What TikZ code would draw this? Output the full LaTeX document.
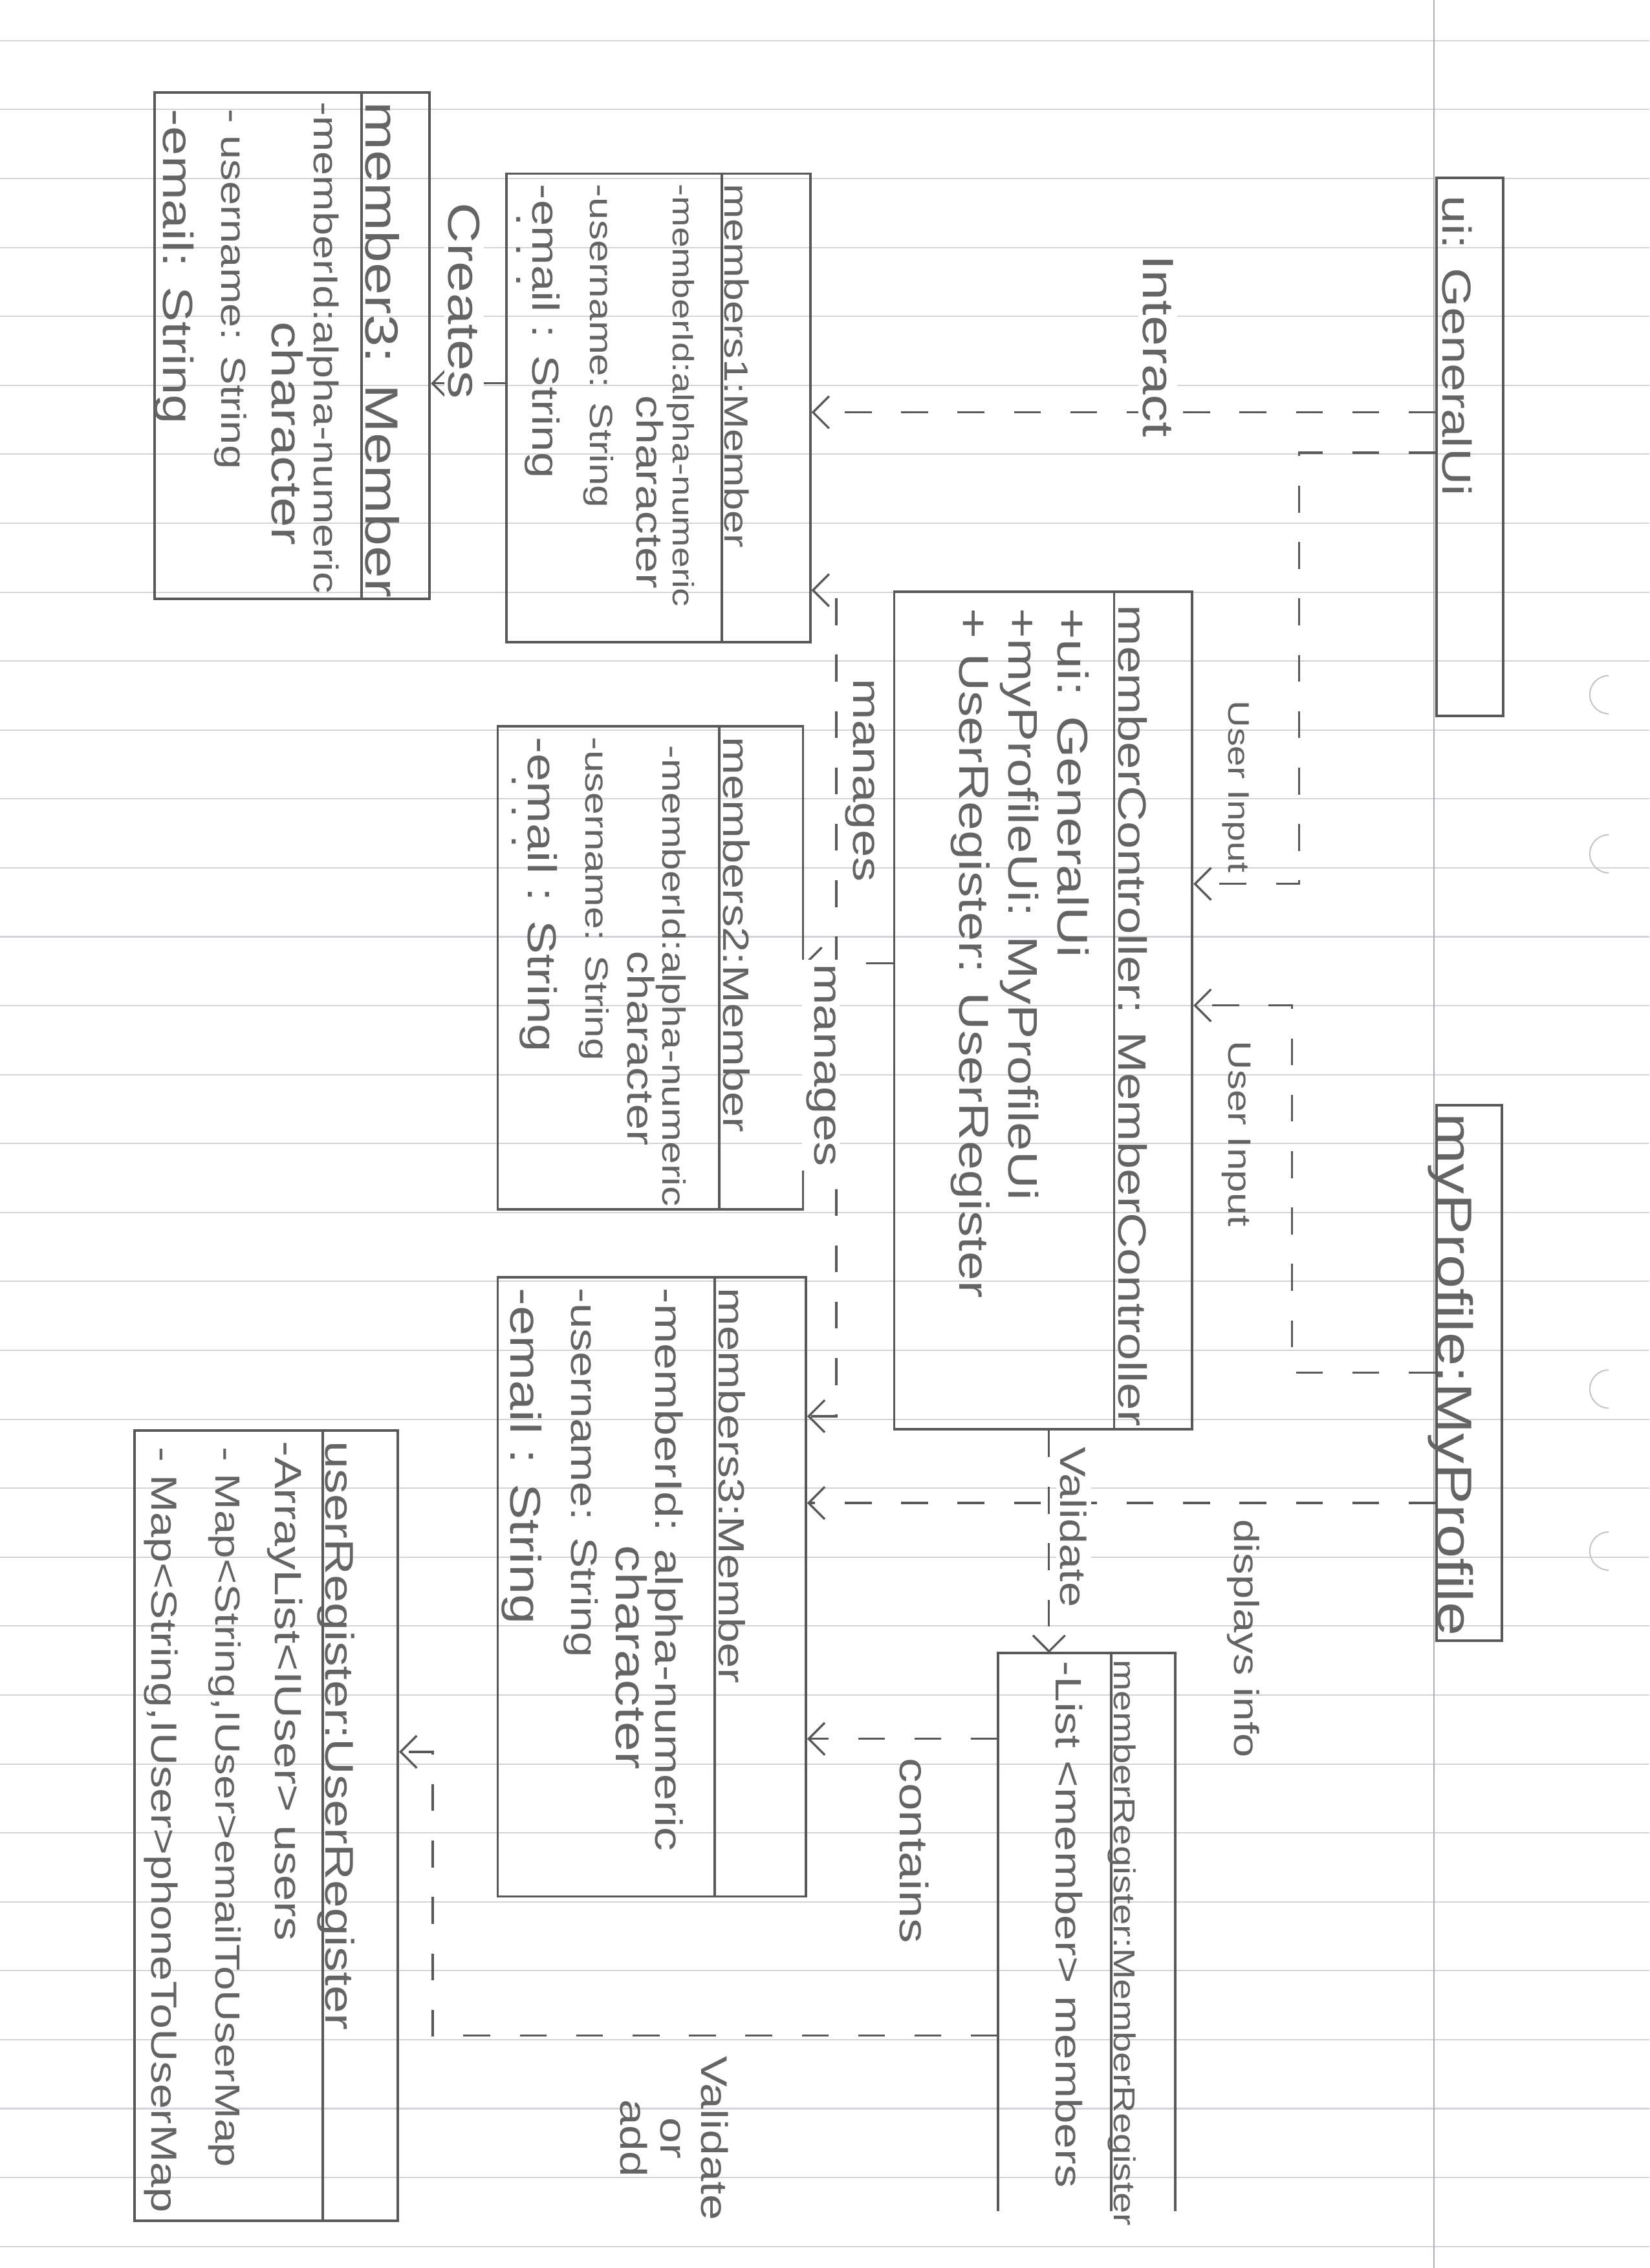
\documentclass[tikz,border=0pt]{standalone}
\usepackage{fontspec}
\setmainfont{Liberation Sans}[FakeStretch=1.25]
\usetikzlibrary{arrows.meta,fit}

\definecolor{pencil}{RGB}{88,88,88}
\definecolor{lead}{RGB}{100,100,100}
\definecolor{ruling}{RGB}{208,212,220}
\definecolor{margin}{RGB}{172,174,180}

\newcommand{\fsz}[1]{\fontsize{#1}{#1}\selectfont}

\tikzset{
  objbox/.style={draw=pencil, line width=0.9pt, inner sep=0pt},
  sepline/.style={draw=pencil, line width=0.9pt},
  hand/.style={rotate=-90, anchor=base west, inner sep=0pt, text=lead},
  linklabel/.style={hand, inner sep=1.5pt, fill=white},
  dep/.style={draw=pencil, line width=0.8pt, dash pattern=on 10pt off 11pt,
    -{Straight Barb[length=6pt,width=12pt]}},
}

\begin{document}
\begin{tikzpicture}[x=0.0189386cm, y=-0.0189386cm]
\useasboundingbox (0,0) rectangle (1140,1567.8);

% ruled paper
\foreach \k in {-2,...,30}
  \draw[ruling, line width=0.5pt] (0,{123.4+47.65*\k}) -- (1140,{123.4+47.65*\k});
\draw[margin, line width=0.6pt] (991,0) -- (991,1567.8);
\foreach \h in {480,590,960,1072}
  \draw[margin!70, line width=0.5pt] (1112,\h-13) arc[start angle=90, end angle=270, radius=0.25cm];

% objects
\node[objbox, fit={(993,123) (1039,495)}] (gui) {};
\node[objbox, fit={(993,764) (1038,1134)}] (prof) {};
\node[objbox, fit={(618,409) (824,988)}] (ctrl) {};
\node[objbox, fit={(350,120) (560,444)}] (mem1) {};
\node[objbox, fit={(344,502) (555,836)}] (mem2) {};
\node[objbox, fit={(344,883) (557,1311)}] (mem3) {};
\node[objbox, fit={(107,64) (297,414)}] (newmem) {};
\node[objbox, fit={(93,989) (275,1535)}] (ureg) {};
\node[inner sep=0pt, fit={(690,1143) (812,1528)}] (mreg) {};
\draw[sepline] (mreg.south west) -- (mreg.north west) -- (mreg.north east) -- (mreg.south east);

\draw[sepline] (770,0 |- ctrl.north) -- (770,0 |- ctrl.south);
\draw[sepline] (499,0 |- mem1.north) -- (499,0 |- mem1.south);
\draw[sepline] (497,0 |- mem2.north) -- (497,0 |- mem2.south);
\draw[sepline] (494,0 |- mem3.north) -- (494,0 |- mem3.south);
\draw[sepline] (250,0 |- newmem.north) -- (250,0 |- newmem.south);
\draw[sepline] (768,0 |- mreg.north) -- (768,0 |- mreg.south);
\draw[sepline] (223,0 |- ureg.north) -- (223,0 |- ureg.south);

\node[hand, font=\fsz{15.1}] (guiname) at (997,135) {ui: GeneralUi};
\node[hand, font=\fsz{18.1}] (profname) at (994,769) {myProfile:MyProfile};

\node[hand, font=\fsz{14.7}] (ctrlname) at (773,418) {memberController: MemberController};
\node[hand, font=\fsz{16}] (ctrlui) at (731,420) {+ui: GeneralUi};
\node[hand, font=\fsz{15.4}] (ctrlprof) at (697,420) {+myProfileUi: MyProfileUi};
\node[hand, font=\fsz{15.6}] (ctrlreg) at (663,420) {+ UserRegister: UserRegister};

\node[hand, font=\fsz{12.5}] (mem1name) at (501,127) {members1:Member};
\node[hand, font=\fsz{11}] (mem1id) at (465,127) {-memberId:alpha-numeric};
\node[hand, font=\fsz{13.8}] (mem1chr) at (440,273) {character};
\node[hand, font=\fsz{12}] (mem1user) at (408,127) {-username: String};
\node[hand, font=\fsz{14}] (mem1mail) at (368,127) {-email : String};
\node[hand, font=\fsz{14}] (mem1more) at (357,147) {. . .};

\node[hand, font=\fsz{13.6}] (mem2name) at (500,509) {members2:Member};
\node[hand, font=\fsz{12}] (mem2id) at (458,515) {-memberId:alpha-numeric};
\node[hand, font=\fsz{13.9}] (mem2chr) at (434,657) {character};
\node[hand, font=\fsz{12}] (mem2user) at (405,509) {-username: String};
\node[hand, font=\fsz{15}] (mem2mail) at (365,509) {-email : String};
\node[hand, font=\fsz{14}] (mem2more) at (354,535) {. . .};

\node[hand, font=\fsz{13.6}] (mem3name) at (497,890) {members3:Member};
\node[hand, font=\fsz{14.2}] (mem3id) at (453,890) {-memberId: alpha-numeric};
\node[hand, font=\fsz{16}] (mem3chr) at (426,1068) {character};
\node[hand, font=\fsz{13.7}] (mem3user) at (395,890) {-username: String};
\node[hand, font=\fsz{16}] (mem3mail) at (353,890) {-email : String};

\node[hand, font=\fsz{17.3}] (newname) at (253,70) {member3: Member};
\node[hand, font=\fsz{12.8}] (newid) at (217,70) {-memberId:alpha-numeric};
\node[hand, font=\fsz{16}] (newchr) at (188,222) {character};
\node[hand, font=\fsz{12.9}] (newuser) at (153,75) {- username: String};
\node[hand, font=\fsz{15.7}] (newmail) at (113,75) {-email: String};

\node[hand, font=\fsz{11.2}] (mregname) at (770,1147) {memberRegister:MemberRegister};
\node[hand, font=\fsz{13.7}] (mreglist) at (730,1148) {-List <member> members};

\node[hand, font=\fsz{14.9}] (uregname) at (225,996) {userRegister:UserRegister};
\node[hand, font=\fsz{14.1}] (uregusers) at (190,996) {-ArrayList<IUser> users};
\node[hand, font=\fsz{13}] (uregmail) at (149,1000) {- Map<String,IUser>emailToUserMap};
\node[hand, font=\fsz{13.5}] (uregphone) at (105,1000) {- Map<String,IUser>phoneToUserMap};

% links
\draw[dep] (gui.west |- 0,285) -- (mem1.east |- 0,285);
\draw[dep] (gui.west |- 0,313) -| (898,611) -- (ctrl.east |- 0,611);
\draw[dep] (prof.west |- 0,949) -| (893,695) -- (ctrl.east |- 0,695);
\draw[dep] (prof.west |- 0,1039) -- (mem3.east |- 0,1039);
\draw[dep] (ctrl.south -| 725,0) -- (mreg.north -| 725,0);
\draw[dep] (mreg.west |- 0,1202) -- (mem3.east |- 0,1202);
\draw[dep] (mreg.west |- 0,1407) -| (299,1211) -- (ureg.east |- 0,1211);
\draw[dep] (ctrl.west |- 0,666) -- (mem2.east |- 0,666);
\draw[dep] (578,666) |- (mem1.east |- 0,408);
\draw[dep] (578,666) |- (mem3.east |- 0,979);
\draw[dep] (mem1.west |- 0,265) -- (newmem.east |- 0,265);

\node[linklabel, font=\fsz{16.3}] (interact) at (790,173) {Interact};
\node[hand, font=\fsz{11.1}] (input1) at (849,484) {User Input};
\node[hand, font=\fsz{12}] (input2) at (849,719) {User Input};
\node[hand, font=\fsz{12.9}] (display) at (853,1050) {displays info};
\node[linklabel, font=\fsz{13.5}] (validate) at (733,997) {Validate};
\node[hand, font=\fsz{14.8}] (contain) at (622,1215) {contains};
\node[rotate=-90, align=center, text=lead, font=\fontsize{13.8}{15}\selectfont] (valadd) at (466,1478) {Validate\\or\\add};
\node[hand, font=\fsz{14.7}] (manage1) at (590,469) {manages};
\node[linklabel, font=\fsz{14.7}] (manage2) at (563,663) {manages};
\node[linklabel, font=\fsz{16.7}] (create) at (310,137) {Creates};
\end{tikzpicture}
\end{document}
